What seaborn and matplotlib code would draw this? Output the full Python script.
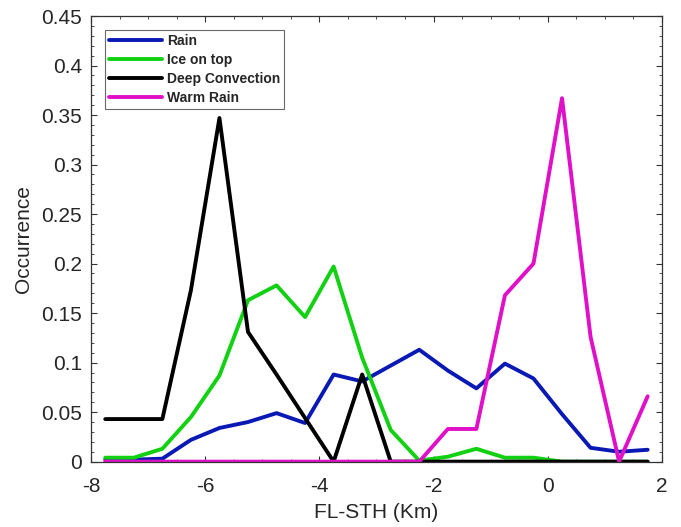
import numpy as np
import pandas as pd
import matplotlib
matplotlib.use('Agg')
import matplotlib.pyplot as plt
import seaborn as sns
from matplotlib.ticker import MultipleLocator

# bin centres of FL-STH (km)
fl_sth = [-7.75, -7.25, -6.75, -6.25, -5.75, -5.25, -4.75, -4.25, -3.75, -3.25,
          -2.75, -2.25, -1.75, -1.25, -0.75, -0.25, 0.25, 0.75, 1.25, 1.75]

rain = [0.002, 0.002, 0.003, 0.022, 0.034, 0.040, 0.049, 0.039, 0.088, 0.081,
        0.097, 0.113, 0.092, 0.074, 0.099, 0.084, 0.048, 0.014, 0.010, 0.012]
ice_on_top = [0.004, 0.004, 0.013, 0.045, 0.087, 0.163, 0.178, 0.146, 0.197, 0.105,
              0.032, 0.001, 0.005, 0.013, 0.004, 0.004, 0.0, 0.0, 0.0, 0.0]
deep_conv = [0.043, 0.043, 0.043, 0.173, 0.347, 0.131, 0.088, 0.044, 0.0, 0.088,
             0.0, 0.0, 0.0, 0.0, 0.0, 0.0, 0.0, 0.0, 0.0, 0.0]
warm_rain = [0.0, 0.0, 0.0, 0.0, 0.0, 0.0, 0.0, 0.0, 0.0, 0.0,
             0.0, 0.0, 0.033, 0.033, 0.168, 0.200, 0.367, 0.126, 0.0, 0.066]

series_names = ['Rain', 'Ice on top', 'Deep Convection', 'Warm Rain']
colors = ['#0a18b4', '#12d012', '#000000', '#e010c8']
ytick_labels = ['0', '0.05', '0.1', '0.15', '0.2', '0.25', '0.3', '0.35', '0.4', '0.45']

df = pd.concat([
    pd.DataFrame({'x': fl_sth, 'y': vals, 'type': name})
    for name, vals in zip(series_names, [rain, ice_on_top, deep_conv, warm_rain])
])

sns.set_style('ticks')
plt.rcParams['font.family'] = ['Liberation Sans', 'DejaVu Sans']
plt.rcParams['axes.unicode_minus'] = False

fig = plt.figure(figsize=(6.81, 5.27), dpi=100)
ax = fig.add_axes([0.1336, 0.124, 0.8384, 0.8456])

sns.lineplot(data=df, x='x', y='y', hue='type', hue_order=series_names,
             palette=colors, linewidth=2.8, ax=ax, estimator=None, sort=False)

ax.set_xlim(-8, 2)
ax.set_ylim(0, 0.45)
ax.xaxis.set_major_locator(MultipleLocator(2))
ax.xaxis.set_minor_locator(MultipleLocator(0.5))
ax.set_yticks(np.arange(0, 0.451, 0.05))
ax.set_yticklabels(ytick_labels)
ax.yaxis.set_minor_locator(MultipleLocator(0.01))

ax.tick_params(which='both', direction='in', top=True, right=True, colors='#333333',
               labelcolor='#262626', labelsize=15)
ax.tick_params(which='major', length=4, width=0.8)
ax.tick_params(which='minor', length=2, width=0.6)
ax.tick_params(axis='x', which='major', pad=11)
ax.tick_params(axis='y', which='major', pad=6.5)
for s in ax.spines.values():
    s.set_color('#333333')
    s.set_linewidth(0.9)

ax.set_xlabel('FL-STH (Km)', fontsize=15, color='#262626', labelpad=5)
ax.set_ylabel('Occurrence', fontsize=15, color='#262626', labelpad=6)

leg = ax.legend(loc='upper left', bbox_to_anchor=(0.0245, 0.969), fancybox=False,
                prop={'weight': 'bold', 'size': 10}, handlelength=3.8,
                borderpad=0.3, labelspacing=0.35, handletextpad=0.35, borderaxespad=0)
leg.get_frame().set_edgecolor('#444444')
leg.get_frame().set_linewidth(0.8)
for line in leg.get_lines():
    line.set_linewidth(2.8)

fig.savefig('out.png', dpi=100)
